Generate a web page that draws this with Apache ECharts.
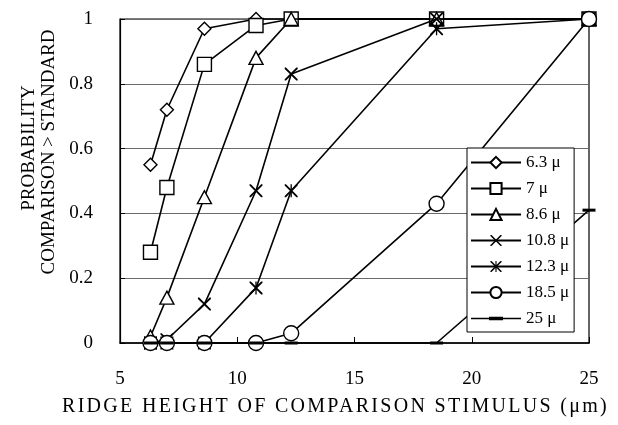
<!DOCTYPE html>
<html>
<head>
<meta charset="utf-8">
<script src="https://cdn.jsdelivr.net/npm/echarts@6/dist/echarts.min.js"></script>
<style>
html,body{margin:0;padding:0;background:#fff;}
#chart{width:618px;height:425px;}
</style>
</head>
<body>
<div id="chart"></div>
<script>
const xValues = [6.3, 7, 8.6, 10.8, 12.3, 18.5, 25];
const seriesNames = ['6.3 μ', '7 μ', '8.6 μ', '10.8 μ', '12.3 μ', '18.5 μ', '25 μ'];
const s63  = [0.55, 0.72, 0.97, 1, 1, 1, 1];
const s7   = [0.28, 0.48, 0.86, 0.98, 1, 1, 1];
const s86  = [0.02, 0.14, 0.45, 0.88, 1, 1, 1];
const s108 = [0, 0.01, 0.12, 0.47, 0.83, 1, 1];
const s123 = [0, 0, 0, 0.17, 0.47, 0.97, 1];
const s185 = [0, 0, 0, 0, 0.03, 0.43, 1];
const s25  = [0, 0, 0, 0, 0, 0, 0.41];
const xTicks = [5, 10, 15, 20, 25];
const yTicks = [0, 0.2, 0.4, 0.6, 0.8, 1];
const xTitle = 'RIDGE HEIGHT OF COMPARISON STIMULUS (μm)';
const yTitleLines = ['PROBABILITY', 'COMPARISON > STANDARD'];

// the original's x-axis title is typeset with wide letter spacing
(function () {
  const proto = CanvasRenderingContext2D.prototype;
  const orig = proto.fillText;
  proto.fillText = function (t) {
    if (t === xTitle && 'letterSpacing' in this) {
      this.save();
      this.letterSpacing = '2.3px';
      const r = orig.apply(this, arguments);
      this.restore();
      this.letterSpacing = '0px';
      const f = this.font;
      this.font = '10px sans-serif';
      this.font = f;
      return r;
    }
    return orig.apply(this, arguments);
  };
})();

const FONT = '"Liberation Serif", "DejaVu Serif", serif';
const X_SYM = 'path://M0,0L2,0L10,8L18,0L20,0L20,2L12,10L20,18L20,20L18,20L10,12L2,20L0,20L0,18L8,10L0,2Z';
const AST_SYM = 'path://M0,0L2,0L10,8L18,0L20,0L20,2L12,10L20,18L20,20L18,20L10,12L2,20L0,20L0,18L8,10L0,2Z M9,0L11,0L11,20L9,20Z';
const DASH_SYM = 'path://M0,0L20,0L20,5L0,5Z';
const DASH_LEGEND = 'path://M0,1L50,1L50,2.4L0,2.4Z M18,0L32,0L32,3.4L18,3.4Z';

const allValues = [s63, s7, s86, s108, s123, s185, s25];
const symbols = ['diamond', 'rect', 'triangle', X_SYM, AST_SYM, 'circle', DASH_SYM];
const sizes = [[13, 13], [14, 14], [14, 13], [13, 13], [13, 13], [15, 15], [13, 3]];
const hollow = [true, true, true, false, false, true, false];

const series = allValues.map((vals, i) => ({
  name: seriesNames[i],
  type: 'line',
  data: xValues.map((x, j) => [x, vals[j]]),
  symbol: symbols[i],
  symbolSize: sizes[i],
  showAllSymbol: true,
  clip: false,
  lineStyle: { color: '#000', width: 1.6 },
  itemStyle: hollow[i]
    ? { color: '#fff', borderColor: '#000', borderWidth: 1.4 }
    : { color: '#000', borderColor: '#000', borderWidth: 0 },
  emphasis: { disabled: true },
  z: 2 + i
}));

const graphics = [
  { type: 'text', x: 29, y: 148, rotation: Math.PI / 2, z: 30,
    style: { text: yTitleLines[0], fill: '#000', font: '19px ' + FONT, textAlign: 'center', textVerticalAlign: 'middle' } },
  { type: 'text', x: 49, y: 152, rotation: Math.PI / 2, z: 30,
    style: { text: yTitleLines[1], fill: '#000', font: '19px ' + FONT, textAlign: 'center', textVerticalAlign: 'middle' } },
  { type: 'text', x: 62, y: 407, z: 31,
    style: { text: xTitle, fill: '#000', font: '20px ' + FONT, textAlign: 'left', textVerticalAlign: 'middle' } }
];

const chart = echarts.init(document.getElementById('chart'), null, { renderer: 'canvas' });
chart.setOption({
  animation: false,
  backgroundColor: '#fff',
  grid: { left: 120, right: 29, top: 19, bottom: 82, show: true, borderColor: '#000', borderWidth: 1.2 },
  xAxis: {
    type: 'value', min: 5, max: 25, interval: 5,
    axisLine: { show: true, lineStyle: { color: '#000', width: 1.5 } },
    axisTick: { show: true, inside: true, length: 6, lineStyle: { color: '#000' } },
    splitLine: { show: false },
    axisLabel: { color: '#000', fontFamily: FONT, fontSize: 19, margin: 27,
      formatter: v => xTicks.includes(v) ? String(v) : '' }
  },
  yAxis: {
    type: 'value', min: 0, max: 1, interval: 0.2,
    axisLine: { show: true, lineStyle: { color: '#000', width: 1.2 } },
    axisTick: { show: true, inside: true, length: 5, lineStyle: { color: '#000' } },
    splitLine: { show: true, lineStyle: { color: '#6a6a6a', width: 1 } },
    axisLabel: { color: '#000', fontFamily: FONT, fontSize: 19, margin: 27,
      formatter: v => { const t = yTicks.find(y => Math.abs(y - v) < 1e-9); return t === undefined ? '' : String(+t.toFixed(1)); } }
  },
  legend: {
    orient: 'vertical',
    left: 467, top: 148,
    backgroundColor: '#fff',
    borderColor: '#000', borderWidth: 1,
    padding: [6, 5, 5, 3],
    itemWidth: 50, itemHeight: 14, itemGap: 9,
    textStyle: { color: '#000', fontFamily: FONT, fontSize: 17, lineHeight: 17 },
    data: seriesNames.map((n, i) => i === 6 ? { name: n, icon: DASH_LEGEND } : { name: n }),
    z: 20
  },
  graphic: graphics,
  series: series
});
</script>
</body>
</html>
